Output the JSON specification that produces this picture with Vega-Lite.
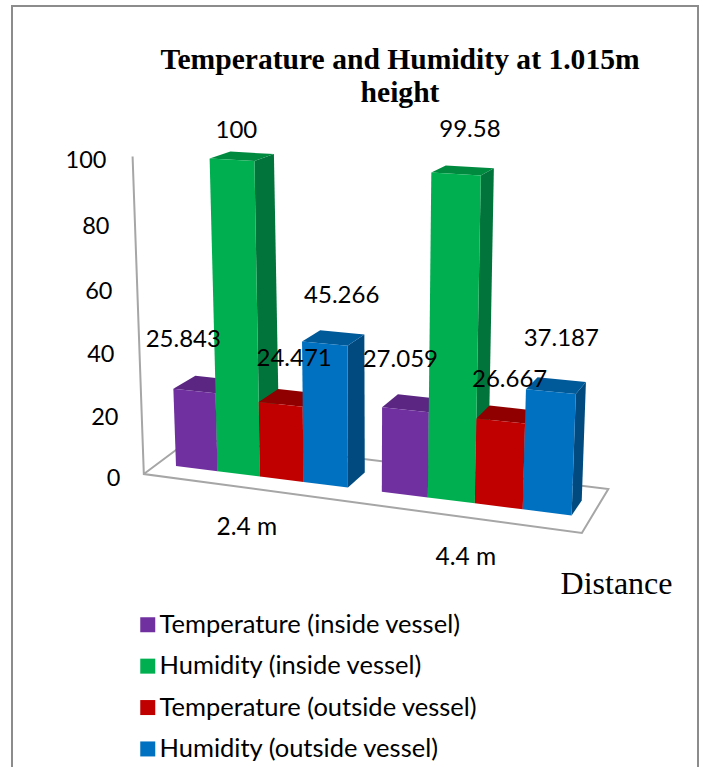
{
"$schema":"https://vega.github.io/schema/vega-lite/v6.json",
"autosize":{"type":"none"},
"padding":{"left":12,"top":6,"right":5,"bottom":0},
"width":686,"height":762,
"background":"white",
"config":{"view":{"stroke":"#8c8c8c","strokeWidth":2}},
"title":{"text":["Temperature and Humidity at 1.015m","height"],"font":"Liberation Serif","fontWeight":"bold","fontSize":29.6,"lineHeight":33,"color":"#000000","anchor":"middle","dx":45,"dy":103,"offset":0},
"datasets":{
"bars":[
{"distance":"2.4 m","series":"Temperature (inside vessel)","value":25.843},
{"distance":"2.4 m","series":"Humidity (inside vessel)","value":100},
{"distance":"2.4 m","series":"Temperature (outside vessel)","value":24.471},
{"distance":"2.4 m","series":"Humidity (outside vessel)","value":45.266},
{"distance":"4.4 m","series":"Temperature (inside vessel)","value":27.059},
{"distance":"4.4 m","series":"Humidity (inside vessel)","value":99.58},
{"distance":"4.4 m","series":"Temperature (outside vessel)","value":26.667},
{"distance":"4.4 m","series":"Humidity (outside vessel)","value":37.187}
],
"box":[
{"ord":0,"s":-0.415,"d":-0.675,"v":101},
{"ord":1,"s":-0.415,"d":-0.675,"v":0},
{"ord":2,"s":9.15,"d":-1.0,"v":0},
{"ord":3,"s":9.12,"d":1.92,"v":0},
{"ord":4,"s":-0.54,"d":1.683,"v":0},
{"ord":5,"s":-0.415,"d":-0.675,"v":0}
]
},
"layer":[
{"data":{"name":"box"},
 "transform":[
  {"calculate":"176+41.1*datum.s+0.47*datum.s*datum.s","as":"xb"},
  {"calculate":"datum.xb+(datum.xb-364)*0.000543*datum.v+datum.d*(22-0.03*(datum.xb-176))","as":"px"},
  {"calculate":"466+0.125*(datum.xb-176)-datum.v*(2.95+0.00065*(datum.xb-176)+0.0015*datum.v)-datum.d*(15-0.08*datum.v)","as":"py"},
  {"calculate":"(476-datum.py)/3.15","as":"level"}],
 "mark":{"type":"line","stroke":"#a6a6a6","strokeWidth":2,"clip":true},
 "encoding":{
  "x":{"field":"px","type":"quantitative","scale":{"domain":[12,698],"nice":false,"zero":false},"axis":{"title":"Distance","titleFont":"Liberation Serif","titleFontWeight":"normal","titleFontSize":32,"titleColor":"#000000","labels":false,"ticks":false,"domain":false,"grid":false,"titleX":604,"titleY":-185,"titleBaseline":"middle","titleAlign":"center"}},
  "y":{"field":"level","type":"quantitative","scale":{"domain":[-92.7,149.21],"nice":false,"zero":false},"axis":{"title":null,"values":[0,20,40,60,80,100],"grid":false,"domain":false,"ticks":false,"labelFont":"Lato","labelFontSize":23.5,"labelColor":"#000000","labelPadding":0,"offset":-108,"encoding":{"labels":{"dx":{"value":{"expr":"[0,-2,-6,-8,-11,-14][indexof([0,20,40,60,80,100],datum.value)]"}},"dy":{"value":{"expr":"[2,4,4,4,2,-1][indexof([0,20,40,60,80,100],datum.value)]"}}}}}},
  "order":{"field":"ord"}}},
{"data":{"name":"bars"},
 "layer":[
 {"transform":[
  {"calculate":"(datum.distance=='2.4 m'?0:4.75)+indexof(['Temperature (inside vessel)','Humidity (inside vessel)','Temperature (outside vessel)','Humidity (outside vessel)'],datum.series)","as":"slot"},
  {"fold":["a","b","c","d"],"as":["corner","unused"]},
  {"calculate":"datum.slot+1","as":"s"},
  {"calculate":"(datum.corner=='a'||datum.corner=='b')?datum.value:0","as":"v"},
  {"calculate":"(datum.corner=='b'||datum.corner=='c')?1:0","as":"d"},
  {"calculate":"176+41.1*datum.s+0.47*datum.s*datum.s","as":"xb"},
  {"calculate":"datum.xb+(datum.xb-364)*0.000543*datum.v+datum.d*(22-0.03*(datum.xb-176))","as":"px"},
  {"calculate":"466+0.125*(datum.xb-176)-datum.v*(2.95+0.00065*(datum.xb-176)+0.0015*datum.v)-datum.d*(15-0.08*datum.v)","as":"py"},
  {"calculate":"(476-datum.py)/3.15","as":"level"}],
 "mark":{"type":"line","strokeWidth":0},
 "encoding":{
  "x":{"field":"px","type":"quantitative"},
  "y":{"field":"level","type":"quantitative"},
  "order":{"field":"corner"},
  "detail":{"field":"slot"},
  "fill":{"field":"series","type":"nominal","legend":null,"scale":{"domain":["Temperature (inside vessel)","Humidity (inside vessel)","Temperature (outside vessel)","Humidity (outside vessel)"],"range":["#4f2372","#00743a","#800000","#004a80"]}}}},
 {"transform":[
  {"calculate":"(datum.distance=='2.4 m'?0:4.75)+indexof(['Temperature (inside vessel)','Humidity (inside vessel)','Temperature (outside vessel)','Humidity (outside vessel)'],datum.series)","as":"slot"},
  {"fold":["a","b","c","d"],"as":["corner","unused"]},
  {"calculate":"(datum.corner=='b'||datum.corner=='c')?datum.slot+1:datum.slot","as":"s"},
  {"calculate":"datum.value","as":"v"},
  {"calculate":"(datum.corner=='c'||datum.corner=='d')?1:0","as":"d"},
  {"calculate":"176+41.1*datum.s+0.47*datum.s*datum.s","as":"xb"},
  {"calculate":"datum.xb+(datum.xb-364)*0.000543*datum.v+datum.d*(22-0.03*(datum.xb-176))","as":"px"},
  {"calculate":"466+0.125*(datum.xb-176)-datum.v*(2.95+0.00065*(datum.xb-176)+0.0015*datum.v)-datum.d*(15-0.08*datum.v)","as":"py"},
  {"calculate":"(476-datum.py)/3.15","as":"level"}],
 "mark":{"type":"line","strokeWidth":0},
 "encoding":{
  "x":{"field":"px","type":"quantitative"},
  "y":{"field":"level","type":"quantitative"},
  "order":{"field":"corner"},
  "detail":{"field":"slot"},
  "fill":{"field":"series","type":"nominal","legend":null,"scale":{"domain":["Temperature (inside vessel)","Humidity (inside vessel)","Temperature (outside vessel)","Humidity (outside vessel)"],"range":["#5a2682","#008a40","#900000","#005a9a"]}}}},
 {"transform":[
  {"calculate":"(datum.distance=='2.4 m'?0:4.75)+indexof(['Temperature (inside vessel)','Humidity (inside vessel)','Temperature (outside vessel)','Humidity (outside vessel)'],datum.series)","as":"slot"},
  {"fold":["a","b","c","d"],"as":["corner","unused"]},
  {"calculate":"(datum.corner=='b'||datum.corner=='c')?datum.slot+1:datum.slot","as":"s"},
  {"calculate":"(datum.corner=='a'||datum.corner=='b')?datum.value:0","as":"v"},
  {"calculate":"0","as":"d"},
  {"calculate":"176+41.1*datum.s+0.47*datum.s*datum.s","as":"xb"},
  {"calculate":"datum.xb+(datum.xb-364)*0.000543*datum.v+datum.d*(22-0.03*(datum.xb-176))","as":"px"},
  {"calculate":"466+0.125*(datum.xb-176)-datum.v*(2.95+0.00065*(datum.xb-176)+0.0015*datum.v)-datum.d*(15-0.08*datum.v)","as":"py"},
  {"calculate":"(476-datum.py)/3.15","as":"level"}],
 "mark":{"type":"line","strokeWidth":0},
 "encoding":{
  "x":{"field":"px","type":"quantitative"},
  "y":{"field":"level","type":"quantitative"},
  "order":{"field":"corner"},
  "detail":{"field":"slot"},
  "fill":{"field":"series","type":"nominal","scale":{"domain":["Temperature (inside vessel)","Humidity (inside vessel)","Temperature (outside vessel)","Humidity (outside vessel)"],"range":["#7030a0","#00b050","#c00000","#0070c0"]},
   "legend":{"title":null,"orient":"none","legendX":123,"legendY":606,"symbolType":"square","symbolSize":225,"symbolStrokeWidth":0,"labelFont":"Lato","labelFontSize":25.5,"labelColor":"#000000","labelOffset":-1,"rowPadding":14.4,"labelLimit":400,"columns":1}}}},
 {"transform":[
  {"calculate":"(datum.distance=='2.4 m'?0:4.75)+indexof(['Temperature (inside vessel)','Humidity (inside vessel)','Temperature (outside vessel)','Humidity (outside vessel)'],datum.series)","as":"slot"},
  {"calculate":"datum.slot+0.5","as":"s"},
  {"calculate":"176+41.1*datum.s+0.47*datum.s*datum.s","as":"xb"},
  {"calculate":"floor(datum.slot>4?datum.slot-0.75:datum.slot)","as":"idx"},
  {"calculate":"datum.xb+(datum.xb-364)*0.000543*datum.value+[-11,4.5,13.5,17,-5,14,9,10.5][datum.idx]","as":"px"},
  {"calculate":"466+0.125*(datum.xb-176)-datum.value*(2.95+0.00065*(datum.xb-176)+0.0015*datum.value)+[-51.5,-29,-45,-48,-49.5,-43.5,-41.5,-53][datum.idx]","as":"py"},
  {"calculate":"(476-datum.py)/3.15","as":"level"}],
 "mark":{"type":"text","font":"Lato","fontSize":24,"color":"#000000","align":"center","baseline":"middle"},
 "encoding":{
  "x":{"field":"px","type":"quantitative"},
  "y":{"field":"level","type":"quantitative"},
  "text":{"field":"value","type":"nominal"}}},
 {"transform":[
  {"filter":"datum.series=='Temperature (inside vessel)'"},
  {"calculate":"datum.distance=='2.4 m'?1.9:6.75","as":"s"},
  {"calculate":"176+41.1*datum.s+0.47*datum.s*datum.s-9","as":"px"},
  {"calculate":"466+0.125*(datum.px-176)+(datum.distance=='2.4 m'?53:56)","as":"py"},
  {"calculate":"(476-datum.py)/3.15","as":"level"}],
 "mark":{"type":"text","font":"Lato","fontSize":24.5,"color":"#000000","align":"center","baseline":"middle"},
 "encoding":{
  "x":{"field":"px","type":"quantitative"},
  "y":{"field":"level","type":"quantitative"},
  "text":{"field":"distance","type":"nominal"}}}
 ],
 "resolve":{"scale":{"fill":"independent"}}
}
]
}
